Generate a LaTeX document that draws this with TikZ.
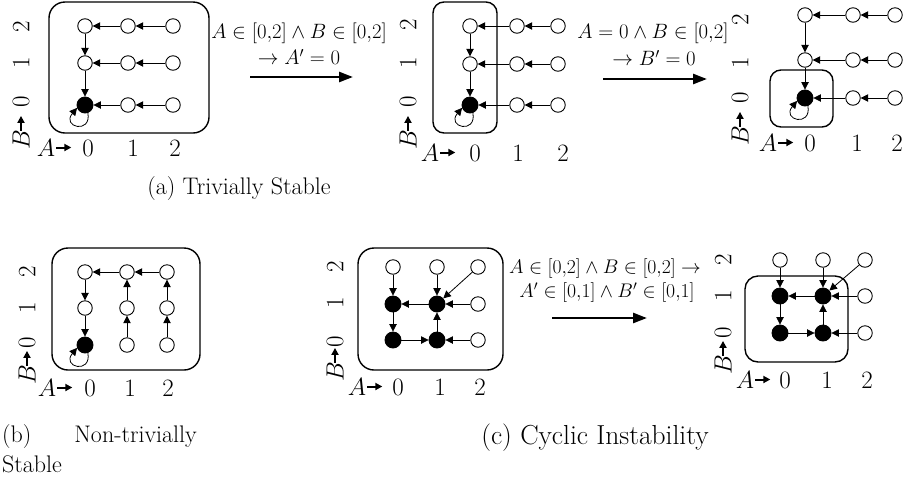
\documentclass[tikz,border=0pt]{standalone}
\usetikzlibrary{arrows.meta}
\tikzset{
  filled/.style={fill=black,minimum size=16pt},
  fs/p00/.style={filled}, fs/q00/.style={filled}, fs/r00/.style={filled},
  fs/s00/.style={filled},
  fs/t00/.style={filled}, fs/t01/.style={filled}, fs/t10/.style={filled}, fs/t11/.style={filled},
  fs/u00/.style={filled}, fs/u01/.style={filled}, fs/u10/.style={filled}, fs/u11/.style={filled},
}
% grid of states: prefix, x0,x1,x2 (A=0,1,2), y0,y1,y2 (B=0,1,2)
\newcommand\stgrid[7]{%
  \foreach \i/\x in {0/#2,1/#3,2/#4}{%
    \foreach \j/\y in {0/#5,1/#6,2/#7}{%
      \edef\tmpnode{\noexpand\node[st,fs/#1\i\j/.try] (#1\i\j) at (\x,\y) {};}\tmpnode}}}
% B axis: prefix, x, y2, y1, y0, yB
\newcommand\blab[6]{%
  \node[axl,rotate=90] (#1b2) at (#2,#3) {2};
  \node[axl,rotate=90] (#1b1) at (#2,#4) {1};
  \node[axl,rotate=90] (#1b0) at (#2,#5) {0};
  \node[axl,rotate=90] (#1B) at (#2,#6) {$B$};
  \draw[ax] ([yshift=-1pt]#1B.east) -- ++(0,-15);}
% A axis: prefix, baseline, xA, x0, x1, x2
\newcommand\alab[6]{%
  \node[axl,anchor=base] (#1A) at (#3,#2) {$A$};
  \draw[ax] ([xshift=1pt]#1A.east) -- ++(15,0);
  \node[axl,anchor=base] (#1a0) at (#4,#2) {0};
  \node[axl,anchor=base] (#1a1) at (#5,#2) {1};
  \node[axl,anchor=base] (#1a2) at (#6,#2) {2};}
% self loop below-left of a node (y axis points down)
\newcommand\selfloop[1]{\draw[ed] (#1.-70) .. controls +(80:22) and +(130:25) .. (#1.200);}
\newcommand\edgesA[1]{%
  \foreach \s/\t in {22/12,12/02,02/01,21/11,11/01,01/00,20/10,10/00}{\draw[ed] (#1\s) -- (#1\t);}
  \selfloop{#100}}
\newcommand\edgesC[1]{%
  \foreach \s/\t in {02/01,12/11,22/11,21/11,11/01,01/00,00/10,20/10,10/11}{\draw[ed] (#1\s) -- (#1\t);}}
\begin{document}
\begin{tikzpicture}[x=1pt,y=-1pt,
  st/.style={circle,draw,line width=0.9pt,minimum size=14.5pt,inner sep=0pt},
  ed/.style={line width=0.8pt,-{Triangle[length=7.5pt,width=7.5pt]}},
  big/.style={line width=2.6pt,-{Triangle[length=14pt,width=10pt]}},
  box/.style={draw,line width=1.4pt},
  axl/.style={font=\fontsize{25}{30}\selectfont,inner sep=0pt},
  ax/.style={line width=2pt,-{Triangle[length=7pt,width=7pt]}},
  lab/.style={font=\fontsize{20.74}{24}\selectfont,inner sep=0pt},
  labs/.style={font=\fontsize{20.74}{24}\selectfont,inner sep=0pt,scale=0.95,transform shape},
  captxt/.style={font=\fontsize{24}{29}\selectfont,inner sep=0pt,anchor=base},
]
\useasboundingbox (0,0) rectangle (909,483);

% ---------- (a) left
\draw[box,rounded corners=16pt] (49,2) rectangle (209,133);
\stgrid{p}{85}{128}{173}{105}{63}{26}
\edgesA{p}
\blab{p}{21}{27}{63}{102}{140}
\alab{p}{156}{46}{88}{133}{175}

\node[lab] (l1a) at (299,33) {$A\in[0{,}2]\wedge B\in[0{,}2]$};
\node[lab] (l1b) at (299,57) {$\to A'=0$};
\coordinate (l1s) at (250,77); \coordinate (l1e) at (353,77);
\draw[big] (l1s) -- (l1e);

% ---------- (a) middle
\draw[box,rounded corners=11pt] (433,2) rectangle (497,133);
\stgrid{q}{470}{517}{558}{105}{64}{26}
\edgesA{q}
\blab{q}{408}{25}{63}{102}{140}
\alab{q}{161}{430}{475}{518}{563}

\node[lab] (l2a) at (653,33) {$A=0\wedge B\in[0{,}2]$};
\node[lab] (l2b) at (654,58) {$\to B'=0$};
\coordinate (l2s) at (603,79); \coordinate (l2e) at (707,79);
\draw[big] (l2s) -- (l2e);

% ---------- (a) right
\draw[box,rounded corners=11pt] (770,70) rectangle (833,127);
\stgrid{r}{805}{853}{895}{98}{60}{15}
\edgesA{r}
\blab{r}{740}{20}{63}{98}{136}
\alab{r}{151}{768}{810}{857}{897}

\node[captxt] (capa) at (239,194) {(a) Trivially Stable};

% ---------- (b)
\draw[box,rounded corners=16pt] (52,248) rectangle (200,370);
\stgrid{s}{85}{127}{167}{345}{308}{272}
\foreach \s/\t in {22/12,12/02,02/01,01/00,10/11,11/12,20/21,21/22}{\draw[ed] (s\s) -- (s\t);}
\selfloop{s00}
\blab{s}{27}{272}{308}{343}{375}
\alab{s}{396}{47}{90}{130}{168}

\node[captxt,anchor=base west] (capb1) at (2,442) {(b)};
\node[captxt,anchor=base east] (capb2) at (197,442) {Non-trivially};
\node[captxt,anchor=base west] (capb3) at (2,472) {Stable};

% ---------- (c) left
\draw[box,rounded corners=16pt] (358,248) rectangle (503,370);
\stgrid{t}{393}{437}{478}{340}{304}{267}
\edgesC{t}
\blab{t}{335}{267}{303}{342}{372}
\alab{t}{395}{357}{398}{440}{480}

\node[labs] (l3a) at (605,269) {$A\in[0{,}2]\wedge B\in[0{,}2]\to$};
\node[labs] (l3b) at (607,293) {$A'\in[0{,}1]\wedge B'\in[0{,}1]$};
\coordinate (l3s) at (552,318); \coordinate (l3e) at (647,318);
\draw[big] (l3s) -- (l3e);

% ---------- (c) right
\draw[box,rounded corners=13pt] (745,276) rectangle (848,362);
\stgrid{u}{780}{823}{865}{333}{296}{260}
\edgesC{u}
\blab{u}{723}{260}{296}{333}{365}
\alab{u}{388}{745}{785}{827}{867}

\node[captxt,font=\fontsize{27.5}{33}\selectfont] (capc) at (595,444) {(c) Cyclic Instability};
\end{tikzpicture}
\end{document}
